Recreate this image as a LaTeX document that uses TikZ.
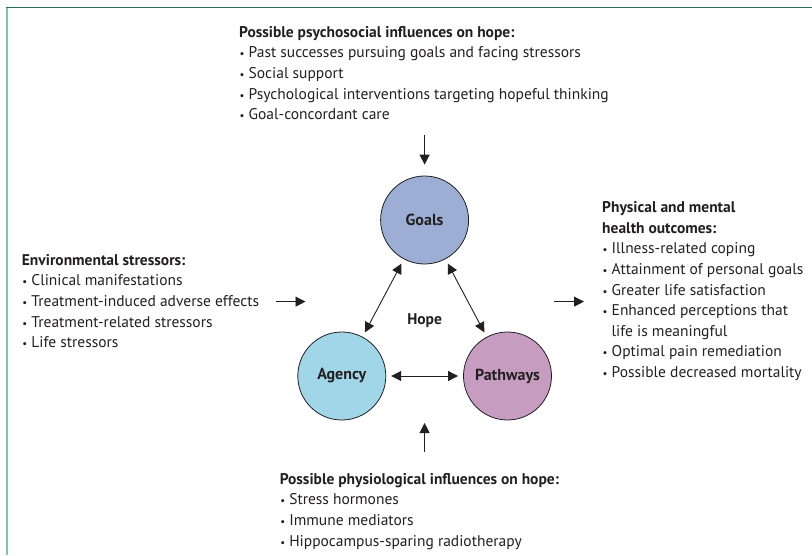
\documentclass[tikz,border=0pt]{standalone}
\usepackage{fontspec}
\setmainfont{PT Sans}
\usetikzlibrary{arrows.meta}
\definecolor{ink}{RGB}{35,31,32}
\definecolor{goalblue}{RGB}{157,174,213}
\definecolor{agencycyan}{RGB}{160,214,232}
\definecolor{pathmauve}{RGB}{198,157,192}
\definecolor{framedark}{RGB}{45,110,80}
\definecolor{framelight}{RGB}{128,196,163}
\newcommand\bul{\makebox[9.5pt][l]{\hspace{0.5pt}\scalebox{0.7}{\textbullet}}}
\newcommand\cont{\hspace*{9.5pt}}

\begin{document}
\begin{tikzpicture}[x=1pt,y=-1pt,line join=round,
  txtblock/.style={anchor=north west,inner sep=0pt,align=left,text=ink,font=\fontsize{15.5}{20.6}\selectfont},
  hopecircle/.style={circle,draw=ink,line width=0.8pt,minimum size=88pt,inner sep=0pt,text=ink,font=\fontsize{16}{18}\selectfont\bfseries},
  tip/.tip={Triangle[length=10pt,width=10pt]},
  link/.style={ink,line width=0.9pt,-tip},
  dlink/.style={ink,line width=0.9pt,tip-tip,shorten <=5pt,shorten >=5pt}]
  \useasboundingbox (0,0) rectangle (812,555);
  % frame
  \draw[framelight,line width=2pt] (6.5,7) -- (6.5,555);
  \draw[framedark,line width=1pt] (6,7) -- (812,7);
  % hope triangle
  \node[hopecircle,fill=goalblue] (goals) at (424.6,220) {Goals};
  \node[hopecircle,fill=agencycyan] (agency) at (341.8,376) {Agency};
  \node[hopecircle,fill=pathmauve] (pathways) at (507.5,376) {Pathways};
  \node[text=ink,font=\fontsize{15.5}{18}\selectfont\bfseries] (hope) at (424.6,321) {Hope};
  \draw[dlink] (goals) -- (agency);
  \draw[dlink] (goals) -- (pathways);
  \draw[dlink] (agency) -- (pathways);
  % text blocks
  \node[txtblock] (psysoc) at (239,26) {\textbf{Possible psychosocial influences on hope:}\\
    \bul Past successes pursuing goals and facing stressors\\
    \bul Social support\\
    \bul Psychological interventions targeting hopeful thinking\\
    \bul Goal-concordant care};
  \node[txtblock] (envstress) at (21.7,254) {\textbf{Environmental stressors:}\\
    \bul Clinical manifestations\\
    \bul Treatment-induced adverse effects\\
    \bul Treatment-related stressors\\
    \bul Life stressors};
  \node[txtblock] (outcomes) at (602,201.5) {\textbf{Physical and mental}\\
    \textbf{health outcomes:}\\
    \bul Illness-related coping\\
    \bul Attainment of personal goals\\
    \bul Greater life satisfaction\\
    \bul Enhanced perceptions that\\
    \cont life is meaningful\\
    \bul Optimal pain remediation\\
    \bul Possible decreased mortality};
  \node[txtblock] (physio) at (279.6,473) {\textbf{Possible physiological influences on hope:}\\
    \bul Stress hormones\\
    \bul Immune mediators\\
    \bul Hippocampus-sparing radiotherapy};
  % influences
  \coordinate (psysocout) at (424.6,134.5);
  \coordinate (physioout) at (424.6,452);
  \coordinate (hopebase) at (424.6,423);
  \coordinate (envout) at (276,301.6);
  \coordinate (outcomesin) at (554,301.6);
  \draw[link,shorten >=11pt] (psysocout) -- (goals);
  \draw[link] (physioout) -- (hopebase);
  \draw[link] (envout) -- ++(29.5,0);
  \draw[link] (outcomesin) -- ++(30,0);
\end{tikzpicture}
\end{document}
